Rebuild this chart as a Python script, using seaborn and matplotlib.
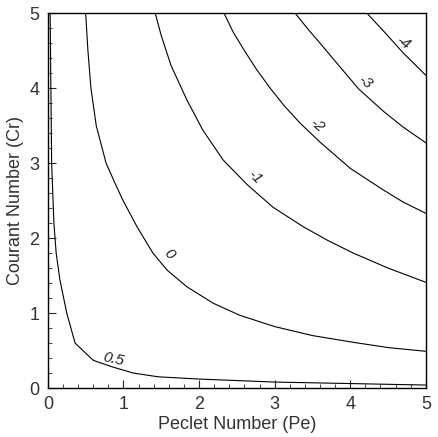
import pandas as pd
import numpy as np
import matplotlib
matplotlib.use('Agg')
import matplotlib.pyplot as plt
import seaborn as sns

sns.set_style('ticks')
plt.rcParams['font.family'] = ['Liberation Sans', 'DejaVu Sans']

# contour lines (Pe, Cr)
pe_05 = [0.03, 0.04, 0.05, 0.08, 0.11, 0.16, 0.25, 0.36, 0.6, 0.86, 1.13, 1.46, 2.0, 3.0, 4.0, 5.0]
cr_05 = [5.0, 4.0, 3.0, 2.2, 1.8, 1.44, 1.0, 0.6, 0.37, 0.28, 0.2, 0.15, 0.12, 0.08, 0.06, 0.04]

pe_0 = [0.5, 0.53, 0.57, 0.64, 0.77, 0.88, 0.99, 1.18, 1.39, 1.58, 1.84, 2.19, 2.54, 3.0, 3.5, 4.04, 4.5, 5.0]
cr_0 = [5.0, 4.5, 4.0, 3.5, 3.0, 2.75, 2.51, 2.15, 1.8, 1.57, 1.35, 1.13, 0.97, 0.82, 0.7, 0.61, 0.54, 0.49]

pe_m1 = [1.42, 1.5, 1.63, 1.84, 2.05, 2.32, 2.64, 2.98, 3.38, 3.7, 4.04, 4.5, 5.0]
cr_m1 = [5.0, 4.7, 4.3, 3.84, 3.44, 3.04, 2.71, 2.41, 2.15, 1.97, 1.8, 1.6, 1.41]

pe_m2 = [2.33, 2.45, 2.6, 2.76, 2.94, 3.13, 3.34, 3.6, 4.0, 4.44, 4.7, 5.0]
cr_m2 = [5.0, 4.75, 4.5, 4.25, 4.0, 3.76, 3.53, 3.28, 2.93, 2.64, 2.48, 2.33]

pe_m3 = [3.27, 3.43, 3.6, 3.85, 4.11, 4.44, 4.7, 5.0]
cr_m3 = [5.0, 4.8, 4.6, 4.3, 3.99, 3.69, 3.48, 3.27]

pe_m4 = [4.22, 4.45, 4.7, 5.0]
cr_m4 = [5.0, 4.75, 4.47, 4.17]

levels = ['0.5', '0', '-1', '-2', '-3', '-4']
label_pe = [0.87, 1.6, 2.74, 3.56, 4.2, 4.7]
label_cr = [0.39, 1.79, 2.81, 3.51, 4.08, 4.6]
label_rot = [-12, -45, -45, -40, -38, -35]

curves = [(pe_05, cr_05), (pe_0, cr_0), (pe_m1, cr_m1),
          (pe_m2, cr_m2), (pe_m3, cr_m3), (pe_m4, cr_m4)]
df = pd.concat([pd.DataFrame({'Pe': p, 'Cr': c, 'level': lv})
                for (p, c), lv in zip(curves, levels)], ignore_index=True)

fig = plt.figure(figsize=(4.39, 4.37), dpi=100)
ax = fig.add_axes([0.109, 0.112, 0.861, 0.858])

sns.lineplot(data=df, x='Pe', y='Cr', units='level', estimator=None, sort=False,
             color='black', lw=0.8, ax=ax)

for lv, x, y, r in zip(levels, label_pe, label_cr, label_rot):
    ax.text(x, y, lv, rotation=r, ha='center', va='center', fontsize=11,
            style='italic', color='#222222')

ax.set_xlim(0, 5)
ax.set_ylim(0, 5)
ax.set_xticks(range(6))
ax.set_yticks(range(6))
ax.set_xticks(np.arange(0, 5.01, 0.2), minor=True)
ax.set_yticks(np.arange(0, 5.01, 0.2), minor=True)
ax.tick_params(which='major', direction='in', length=6, width=0.8, labelsize=13,
               labelcolor='#333333', pad=6)
ax.tick_params(which='minor', direction='in', length=3, width=0.6)
for s in ax.spines.values():
    s.set_color('black')
    s.set_linewidth(1.0)

ax.set_xlabel('Peclet Number (Pe)', fontsize=13, color='#333333', labelpad=2)
ax.set_ylabel('Courant Number (Cr)', fontsize=13, color='#333333', labelpad=4)

fig.savefig('out.png', dpi=100)
